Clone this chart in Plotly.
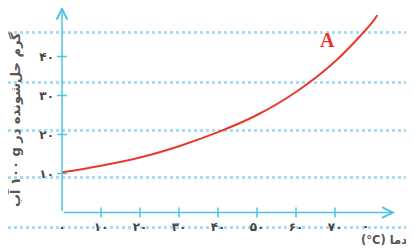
import plotly.graph_objects as go

# ---- data ----
temp = [0, 10, 20, 30, 40, 50, 60, 70, 80, 80.8]
solubility = [10.3, 12.0, 14.1, 17.0, 20.6, 25.0, 30.9, 38.7, 49.3, 50.6]

x_tick_vals = [0, 10, 20, 30, 40, 50, 60, 70]
x_tick_text = ["۰", "۱۰", "۲۰", "۳۰", "۴۰", "۵۰", "۶۰", "۷۰"]
y_tick_vals = [10, 20, 30, 40]
y_tick_text = ["۱۰", "۲۰", "۳۰", "۴۰"]
extra_x_label = "۰"
extra_x_label_pos = 77.7

# notebook-style dotted guide lines (background)
guide_levels = [46.03, 33.46, 21.15, 8.85, -3.72]

curve_label = "A"
x_title = "\u202bدما (\u200e°C)\u202c"
y_title = "\u202bگرم حل‌شونده در g \u200f۱۰۰ آب\u202c"

AXIS = "#4fc3e6"
GRID = "#a8def5"
RED = "#e8392b"
TXT = "#555555"

W, H = 414, 248
OFF = 8  # empirical offset of the plot area on the page
S = 3.9  # pixels per data unit
X0, Y0 = 62, 212.5  # page pixel of the data origin

x_rng = [(OFF - X0) / S, (OFF + W - X0) / S]
y_rng = [(Y0 - OFF - H) / S, (Y0 - OFF) / S]


def dx(p):
    return (p - X0) / S


def dy(p):
    return (Y0 - p) / S


fig = go.Figure()

# crossing tick marks
fig.add_trace(go.Scatter(
    x=x_tick_vals[1:], y=[0] * (len(x_tick_vals) - 1), mode="markers",
    marker=dict(symbol="line-ns", size=7, line=dict(color=AXIS, width=1.5)),
    hoverinfo="skip", showlegend=False))
fig.add_trace(go.Scatter(
    x=[0] * len(y_tick_vals), y=y_tick_vals, mode="markers",
    marker=dict(symbol="line-ew", size=7, line=dict(color=AXIS, width=1.5)),
    hoverinfo="skip", showlegend=False))

# curve
fig.add_trace(go.Scatter(
    x=temp, y=solubility, mode="lines",
    line=dict(color=RED, width=2, shape="spline"),
    showlegend=False))

# guide-line carrier (invisible)
fig.add_trace(go.Scatter(x=[None], y=[None], yaxis="y2", showlegend=False))

tick_font = dict(family="DejaVu Sans", size=12, color="#444444", weight="bold")

fig.update_layout(
    width=W, height=H,
    margin=dict(l=0, r=0, t=0, b=0, pad=0),
    paper_bgcolor="white", plot_bgcolor="white",
    font=dict(family="DejaVu Sans", color=TXT),
    xaxis=dict(range=x_rng, anchor="free", position=1 - (Y0 - OFF) / H,
               domain=[0, 1], automargin=False,
               tickvals=x_tick_vals, ticktext=x_tick_text,
               tickfont=tick_font,
               showgrid=False, zeroline=False, showline=False, ticks="",
               ticklabelstandoff=5),
    yaxis=dict(range=y_rng, anchor="free", position=(X0 - OFF) / W,
               domain=[0, 1], automargin=False,
               tickvals=y_tick_vals, ticktext=y_tick_text,
               tickfont=tick_font,
               showgrid=False, zeroline=False, showline=False, ticks="",
               ticklabelstandoff=8),
    yaxis2=dict(range=y_rng, overlaying="y", tickvals=guide_levels,
                automargin=False,
                showticklabels=False, showgrid=True, gridcolor=GRID,
                gridwidth=3, griddash="3px,3px", zeroline=False,
                showline=False, ticks=""),
)

# axis lines with arrowheads
fig.add_annotation(x=85.4, y=0, ax=0, ay=0, xref="x", yref="y",
                   axref="x", ayref="y", text="", showarrow=True,
                   arrowhead=5, arrowsize=1.4, arrowwidth=1.5,
                   arrowcolor=AXIS)
fig.add_annotation(x=0, y=52.8, ax=0, ay=0, xref="x", yref="y",
                   axref="x", ayref="y", text="", showarrow=True,
                   arrowhead=5, arrowsize=1.4, arrowwidth=1.5,
                   arrowcolor=AXIS)

# stray tick label near the end of the x axis
fig.add_annotation(x=extra_x_label_pos, y=0, xref="x", yref="y", yshift=-13,
                   text=extra_x_label, showarrow=False, font=tick_font)

# labels
fig.add_annotation(x=dx(327), y=dy(40), xref="x", yref="y",
                   text=f"<b>{curve_label}</b>", showarrow=False,
                   font=dict(family="Liberation Serif", size=20, color=RED))
fig.add_annotation(x=dx(15), y=dy(120), xref="x", yref="y",
                   text=f"<b>{y_title}</b>", textangle=-90, showarrow=False,
                   font=dict(size=13, color=TXT))
fig.add_annotation(x=dx(384), y=dy(239.5), xref="x", yref="y",
                   text=f"<b>{x_title}</b>", showarrow=False,
                   font=dict(size=11.5, color=TXT))

fig.write_html("out.html")
